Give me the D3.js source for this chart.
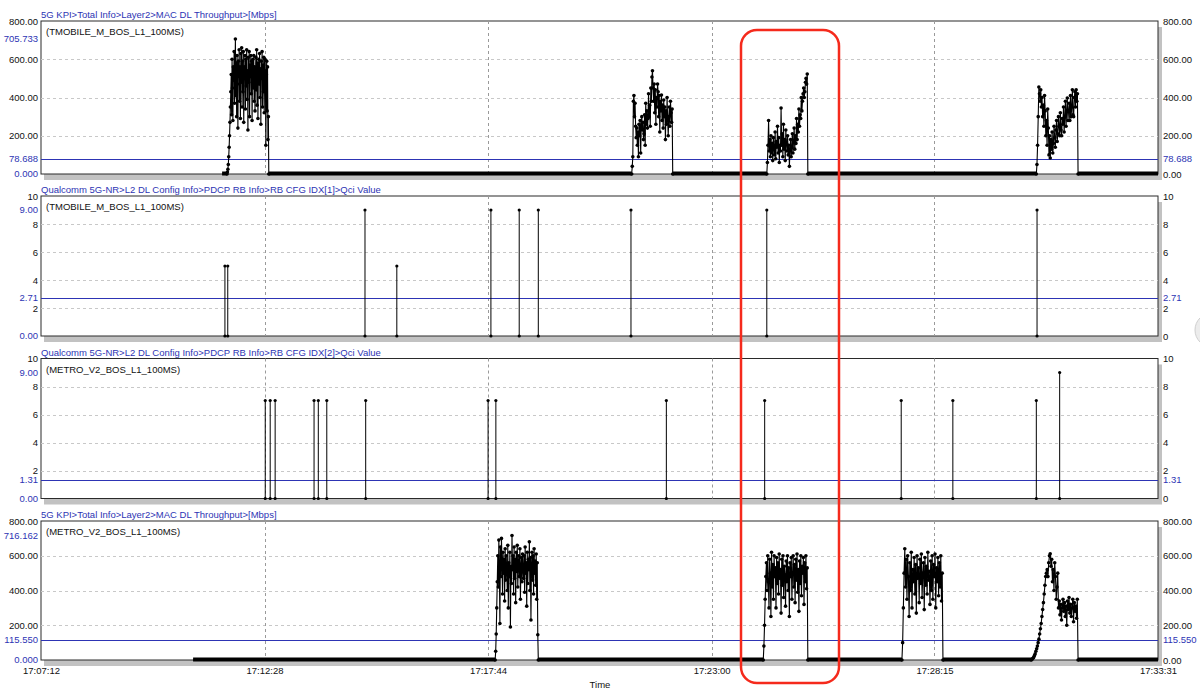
<!DOCTYPE html>
<html>
<head>
<meta charset="utf-8">
<script src="https://cdn.jsdelivr.net/npm/d3@7"></script>
<style>
body { margin: 0; background: #fff; overflow: hidden; }
text { font-family: "Liberation Sans", Arial, sans-serif; font-size: 9.5px; }
</style>
</head>
<body>
<script>
// time axis
var timeTicks = ["17:07:12", "17:12:28", "17:17:44", "17:23:00", "17:28:15", "17:33:31"];

// TMOBILE MAC DL throughput (Mbps)
var tmoThrRange = ["17:11:28", "17:33:31"];
var tmoBurstTimes = [["17:11:35", "17:12:34"], ["17:21:07", "17:22:05"], ["17:24:18", "17:25:16"], ["17:30:39", "17:31:38"]];
var tmoBurst1 = [0, 10, 25, 50, 90, 140, 200, 270, 350, 430, 520, 310, 600, 450, 280, 560, 490, 640, 370, 520, 705.733, 410, 580, 300, 620, 470, 240, 590, 510, 650, 380, 560, 290, 630, 480, 660, 350, 590, 430, 640, 270, 560, 500, 620, 340, 600, 460, 650, 390, 540, 230, 610, 480, 640, 300, 570, 510, 620, 420, 590, 280, 540, 600, 450, 620, 380, 560, 330, 500, 610, 440, 650, 360, 580, 290, 520, 600, 470, 630, 400, 550, 260, 590, 500, 640, 350, 570, 430, 610, 320, 540, 600, 480, 150, 520, 590, 330, 560, 180, 300, 0];
var tmoBurst2 = [0, 40, 90, 380, 410, 300, 370, 250, 190, 240, 150, 220, 90, 260, 200, 280, 110, 250, 300, 230, 270, 180, 210, 310, 150, 370, 260, 330, 240, 290, 420, 300, 360, 250, 450, 380, 507, 540, 450, 380, 470, 320, 440, 260, 400, 350, 470, 430, 300, 410, 220, 380, 330, 413, 280, 360, 240, 387, 300, 350, 180, 330, 260, 400, 280, 200, 300, 350, 250, 380, 320, 270, 340, 0];
var tmoBurst3 = [0, 60, 150, 280, 120, 180, 90, 200, 110, 160, 70, 190, 130, 100, 220, 80, 170, 140, 250, 110, 190, 60, 150, 120, 345, 150, 210, 90, 260, 130, 180, 70, 230, 160, 120, 200, 100, 150, 40, 130, 180, 90, 140, 210, 110, 170, 240, 130, 200, 160, 290, 180, 260, 220, 340, 250, 310, 290, 400, 330, 380, 420, 450, 400, 430, 480, 500, 470, 523, 0];
var tmoBurst4 = [0, 50, 150, 300, 455, 420, 380, 440, 350, 400, 300, 360, 250, 410, 330, 200, 280, 150, 340, 240, 100, 200, 84, 180, 130, 220, 110, 160, 250, 190, 140, 230, 280, 170, 210, 300, 250, 200, 320, 230, 200, 290, 260, 350, 220, 300, 380, 250, 330, 397, 280, 330, 370, 280, 410, 300, 350, 440, 310, 300, 400, 430, 350, 440, 380, 420, 0];
var tmoThrStats = { max: 705.733, avg: 78.688, min: 0 };

// METRO MAC DL throughput (Mbps)
var metroThrRange = ["17:10:47", "17:33:31"];
var metroBurstTimes = [["17:17:54", "17:18:55"], ["17:24:13", "17:25:16"], ["17:27:29", "17:28:27"], ["17:30:32", "17:31:38"]];
var metroBurst1 = [0, 50, 150, 300, 450, 600, 420, 690, 530, 210, 650, 480, 700, 560, 380, 620, 500, 580, 340, 640, 460, 600, 520, 400, 660, 300, 560, 480, 620, 190, 540, 440, 716.162, 520, 600, 380, 650, 470, 580, 330, 620, 510, 660, 420, 560, 600, 480, 640, 350, 540, 590, 450, 610, 520, 470, 600, 390, 650, 500, 560, 310, 620, 440, 580, 520, 680, 400, 590, 230, 550, 620, 460, 600, 380, 640, 500, 570, 430, 610, 350, 560, 145, 0];
var metroBurst2 = [0, 80, 200, 350, 480, 560, 400, 600, 450, 300, 580, 500, 250, 620, 420, 550, 350, 600, 480, 530, 300, 590, 440, 560, 380, 610, 470, 520, 270, 580, 430, 600, 360, 540, 490, 310, 570, 450, 600, 400, 530, 250, 560, 480, 590, 350, 500, 600, 420, 550, 330, 580, 460, 610, 390, 520, 280, 570, 440, 600, 370, 540, 500, 590, 320, 560, 450, 600, 410, 530, 0];
var metroBurst3 = [0, 100, 300, 500, 640, 420, 580, 350, 600, 480, 250, 560, 400, 620, 300, 520, 450, 590, 380, 550, 270, 600, 470, 530, 330, 580, 440, 610, 360, 500, 560, 290, 590, 430, 540, 380, 620, 460, 510, 320, 570, 400, 600, 350, 550, 480, 610, 300, 530, 450, 590, 370, 560, 420, 600, 340, 500, 0];
var metroBurst4 = [0, 5, 10, 15, 25, 35, 50, 65, 80, 100, 120, 150, 180, 210, 250, 290, 330, 380, 430, 480, 500, 520, 480, 560, 600, 611, 540, 580, 450, 520, 400, 560, 480, 350, 420, 500, 300, 340, 260, 320, 230, 300, 350, 280, 330, 250, 310, 200, 340, 290, 360, 270, 320, 250, 300, 350, 220, 330, 280, 310, 240, 350, 0];
var metroThrStats = { max: 716.162, avg: 115.550, min: 0 };

// Qci value events
var qci1Times = ["17:11:32", "17:11:36", "17:14:50", "17:15:35", "17:17:48", "17:18:28", "17:18:55", "17:21:06", "17:24:18", "17:30:40"];
var qci1Values = [5, 5, 9, 5, 9, 9, 9, 9, 9, 9];
var qci1Stats = { max: 9, avg: 2.71, min: 0 };
var qci2Times = ["17:12:29", "17:12:36", "17:12:43", "17:13:38", "17:13:44", "17:13:56", "17:14:51", "17:17:44", "17:17:55", "17:21:56", "17:24:15", "17:27:28", "17:28:41", "17:30:39", "17:31:12"];
var qci2Values = [7, 7, 7, 7, 7, 7, 7, 7, 7, 7, 7, 7, 7, 7, 9];
var qci2Stats = { max: 9, avg: 1.31, min: 0 };

var thrTicks = [0, 200, 400, 600, 800];
var qciTicks = [0, 2, 4, 6, 8, 10];

var blue = "#2d34b4";
var parse = d3.timeParse("%H:%M:%S");

var svg = d3.select("body").append("svg")
    .attr("width", 1200)
    .attr("height", 691);

var x = d3.scaleTime()
    .domain([parse(timeTicks[0]), parse(timeTicks[timeTicks.length - 1])])
    .range([41, 1158]);

// turn a burst list into points, spreading each burst's samples over its time span
function buildSeries(range, times, bursts) {
    var pts = [{ t: parse(range[0]), v: 0 }];
    times.forEach(function(tt, i) {
        var a = parse(tt[0]), b = parse(tt[1]), vals = bursts[i];
        vals.forEach(function(v, j) {
            pts.push({ t: new Date(+a + (b - a) * j / (vals.length - 1)), v: v, m: true });
        });
    });
    pts.push({ t: parse(range[1]), v: 0 });
    return pts;
}

function drawFrame(top, bottom, title, label, y, ticks, fmtLeft, fmtRight, stats, minFmt, statFmt) {
    var g = svg.append("g");
    // shadow + box
    g.append("rect").attr("x", 44).attr("y", top + 6).attr("width", 1118).attr("height", bottom - top)
        .attr("fill", "#c2c2c2");
    g.append("rect").attr("x", 41).attr("y", top).attr("width", 1117).attr("height", bottom - top)
        .attr("fill", "#fff").attr("stroke", "#2a2a2a").attr("stroke-width", 1);

    // horizontal grid
    g.selectAll(".hg").data(ticks.slice(1, -1)).enter().append("line")
        .attr("x1", 41).attr("x2", 1158)
        .attr("y1", function(d) { return Math.round(y(d)) + 0.5; })
        .attr("y2", function(d) { return Math.round(y(d)) + 0.5; })
        .attr("stroke", "#c8c8c8").attr("stroke-dasharray", "3,3");
    // vertical grid
    g.selectAll(".vg").data(timeTicks.slice(1, -1)).enter().append("line")
        .attr("x1", function(d) { return Math.round(x(parse(d))) + 0.5; })
        .attr("x2", function(d) { return Math.round(x(parse(d))) + 0.5; })
        .attr("y1", top).attr("y2", bottom)
        .attr("stroke", "#9a9a9a").attr("stroke-dasharray", "3,3");
    // average line
    g.append("line").attr("x1", 41).attr("x2", 1158)
        .attr("y1", Math.round(y(stats.avg)) + 0.5).attr("y2", Math.round(y(stats.avg)) + 0.5)
        .attr("stroke", blue).attr("stroke-width", 1);

    // axes
    var left = g.append("g").attr("transform", "translate(38,0)")
        .call(d3.axisLeft(y).tickValues(ticks.filter(function(d) { return d > 0; })).tickSize(0).tickPadding(0).tickFormat(fmtLeft));
    var right = g.append("g").attr("transform", "translate(1163,0)")
        .call(d3.axisRight(y).tickValues(ticks).tickSize(0).tickPadding(0).tickFormat(fmtRight));
    [left, right].forEach(function(a) {
        a.select(".domain").remove();
        a.selectAll("text").attr("fill", "#111").style("font-size", "9.5px").style("font-family", "\"Liberation Sans\", Arial, sans-serif");
    });

    // blue stat labels
    g.append("text").attr("x", 38).attr("y", y(stats.max)).attr("dy", "0.35em").attr("text-anchor", "end").attr("fill", blue).text(statFmt(stats.max));
    g.append("text").attr("x", 38).attr("y", y(stats.avg)).attr("dy", "0.35em").attr("text-anchor", "end").attr("fill", blue).text(statFmt(stats.avg));
    g.append("text").attr("x", 38).attr("y", y(stats.min)).attr("dy", "0.35em").attr("text-anchor", "end").attr("fill", blue).text(minFmt(stats.min));
    g.append("text").attr("x", 1163).attr("y", y(stats.avg)).attr("dy", "0.35em").attr("fill", blue).text(statFmt(stats.avg));

    g.append("text").attr("x", 41).attr("y", top - 3).attr("fill", blue).text(title);
    g.append("text").attr("x", 46).attr("y", top + 14).attr("fill", "#111").text(label);
    return g;
}

function drawThroughput(top, bottom, title, label, pts, stats) {
    var y = d3.scaleLinear().domain([0, 800]).range([bottom, top]);
    var g = drawFrame(top, bottom, title, label, y, thrTicks, d3.format(".2f"), d3.format(".2f"), stats, d3.format(".3f"), d3.format(".3f"));
    var line = d3.line().x(function(d) { return x(d.t); }).y(function(d) { return y(d.v); });
    // zero stretches between bursts look thick in the source
    for (var i = 1; i < pts.length; i++) {
        if (pts[i].v === 0 && pts[i - 1].v === 0) {
            g.append("line").attr("x1", x(pts[i - 1].t)).attr("x2", x(pts[i].t))
                .attr("y1", y(0) - 0.5).attr("y2", y(0) - 0.5)
                .attr("stroke", "#000").attr("stroke-width", 4);
        }
    }
    g.append("path").datum(pts)
        .attr("fill", "none").attr("stroke", "#000").attr("stroke-width", 1.1)
        .attr("d", line);
    g.selectAll(".pt").data(pts.filter(function(d) { return d.m; })).enter().append("circle")
        .attr("cx", function(d) { return x(d.t); })
        .attr("cy", function(d) { return y(d.v); })
        .attr("r", 1.8).attr("fill", "#000");
}

function drawQci(top, bottom, title, label, times, values, stats) {
    var y = d3.scaleLinear().domain([0, 10]).range([bottom, top]);
    var g = drawFrame(top, bottom, title, label, y, qciTicks, d3.format("d"), d3.format("d"), stats, d3.format(".2f"), d3.format(".2f"));
    var ev = times.map(function(t, i) { return { t: parse(t), v: values[i] }; });
    g.selectAll(".stem").data(ev).enter().append("line")
        .attr("x1", function(d) { return x(d.t); }).attr("x2", function(d) { return x(d.t); })
        .attr("y1", y(0)).attr("y2", function(d) { return y(d.v); })
        .attr("stroke", "#000").attr("stroke-width", 1);
    g.selectAll(".top").data(ev).enter().append("circle")
        .attr("cx", function(d) { return x(d.t); }).attr("cy", function(d) { return y(d.v); })
        .attr("r", 1.6).attr("fill", "#000");
    g.selectAll(".bot").data(ev).enter().append("circle")
        .attr("cx", function(d) { return x(d.t); }).attr("cy", y(0))
        .attr("r", 1.6).attr("fill", "#000");
}

drawThroughput(21, 174, "5G KPI>Total Info>Layer2>MAC DL Throughput>[Mbps]", "(TMOBILE_M_BOS_L1_100MS)",
    buildSeries(tmoThrRange, tmoBurstTimes, [tmoBurst1, tmoBurst2, tmoBurst3, tmoBurst4]), tmoThrStats);
drawQci(196, 336, "Qualcomm 5G-NR>L2 DL Config Info>PDCP RB Info>RB CFG IDX[1]>Qci Value", "(TMOBILE_M_BOS_L1_100MS)",
    qci1Times, qci1Values, qci1Stats);
drawQci(358.5, 498.5, "Qualcomm 5G-NR>L2 DL Config Info>PDCP RB Info>RB CFG IDX[2]>Qci Value", "(METRO_V2_BOS_L1_100MS)",
    qci2Times, qci2Values, qci2Stats);
drawThroughput(521, 660, "5G KPI>Total Info>Layer2>MAC DL Throughput>[Mbps]", "(METRO_V2_BOS_L1_100MS)",
    buildSeries(metroThrRange, metroBurstTimes, [metroBurst1, metroBurst2, metroBurst3, metroBurst4]), metroThrStats);

// time axis
var xa = svg.append("g").attr("transform", "translate(0,667)")
    .call(d3.axisBottom(x).tickValues(timeTicks.map(parse)).tickSize(0).tickPadding(0).tickFormat(d3.timeFormat("%H:%M:%S")));
xa.select(".domain").remove();
xa.selectAll("text").attr("fill", "#111").style("font-size", "9.5px").style("font-family", "\"Liberation Sans\", Arial, sans-serif");
svg.append("text").attr("x", 600).attr("y", 688).attr("text-anchor", "middle").attr("fill", "#111").text("Time");

// highlight box
svg.append("rect").attr("x", 741).attr("y", 30).attr("width", 98).attr("height", 653)
    .attr("rx", 16).attr("fill", "none").attr("stroke", "#f52a1c").attr("stroke-width", 2.5);

// scroll knob at the right edge
svg.append("circle").attr("cx", 1212).attr("cy", 330).attr("r", 17)
    .attr("fill", "#ececec").attr("stroke", "#cfcfcf");
</script>
</body>
</html>
